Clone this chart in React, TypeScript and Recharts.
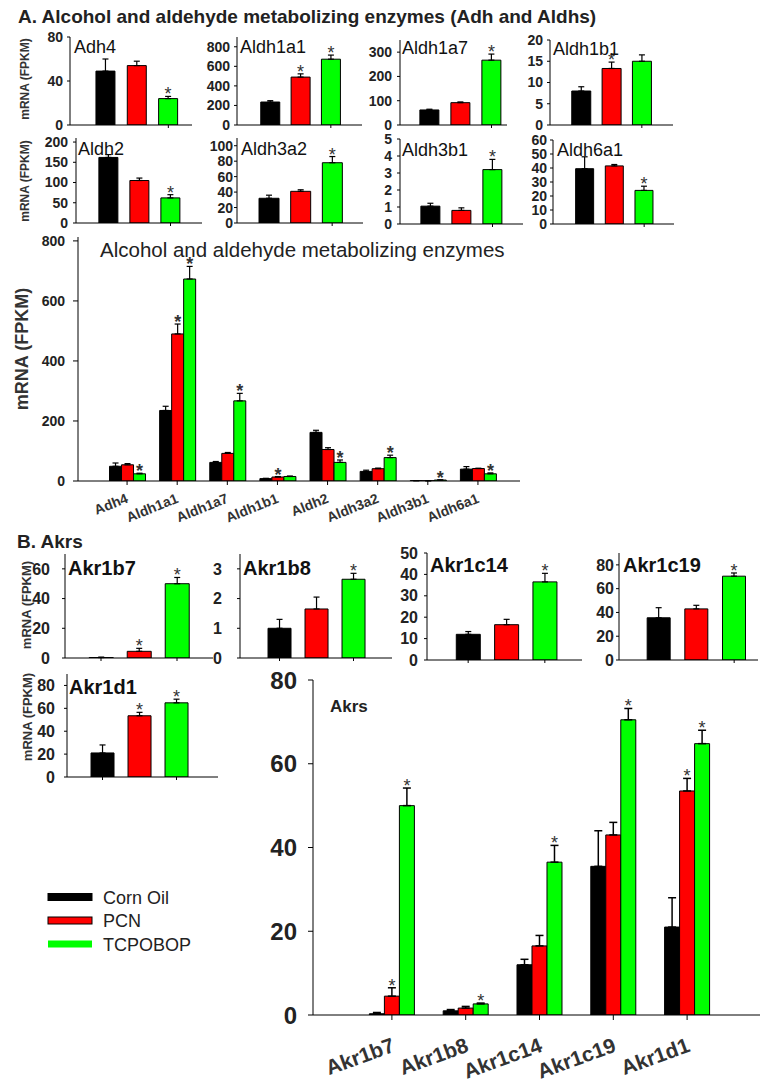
import React from 'react';
import { BarChart, Bar, XAxis, YAxis, ErrorBar, LabelList, Cell } from 'recharts';

const FONT = '"Liberation Sans", Arial, Helvetica, sans-serif';

// Series
const SERIES_NAMES = ['Corn Oil', 'PCN', 'TCPOBOP'];
const SERIES_COLORS = ['#000000', '#ff0000', '#00ff00'];
const SERIES_KEYS = ['corn', 'pcn', 'tcp'];

// Panel A: alcohol and aldehyde metabolizing enzymes
const A_GENES = ['Adh4', 'Aldh1a1', 'Aldh1a7', 'Aldh1b1', 'Aldh2', 'Aldh3a2', 'Aldh3b1', 'Aldh6a1'];
const A_CORN = [49, 235, 62, 8, 162, 32, 1.05, 39.5];
const A_CORN_ERR = [11, 14, 3, 1, 7, 4, 0.17, 8.5];
const A_PCN = [54, 490, 92, 13.3, 105, 41, 0.8, 41.5];
const A_PCN_ERR = [4, 33, 3, 1.5, 6, 2, 0.15, 1];
const A_TCP = [24, 673, 267, 15, 62, 78, 3.2, 24];
const A_TCP_ERR = [2, 42, 25, 1.5, 8, 8, 0.6, 3];
const A_CORN_SIG = [0, 0, 0, 0, 0, 0, 0, 0];
const A_PCN_SIG = [0, 1, 0, 1, 0, 0, 0, 0];
const A_TCP_SIG = [1, 1, 1, 0, 1, 1, 1, 1];
const A_TICKS = [
  [0, 40, 80],
  [0, 200, 400, 600, 800],
  [0, 100, 200, 300],
  [0, 5, 10, 15, 20],
  [0, 50, 100, 150, 200],
  [0, 20, 40, 60, 80, 100],
  [0, 1, 2, 3, 4, 5],
  [0, 10, 20, 30, 40, 50, 60],
];
const A_MAX = [80, 900, 350, 20, 210, 110, 5, 60];
const A_MAIN_TICKS = [0, 200, 400, 600, 800];
const A_MAIN_MAX = 813;

// Panel B: Akrs
const B_GENES = ['Akr1b7', 'Akr1b8', 'Akr1c14', 'Akr1c19', 'Akr1d1'];
const B_CORN = [0.3, 1.0, 12, 35.5, 21];
const B_CORN_ERR = [0.3, 0.3, 1.3, 8.5, 7];
const B_PCN = [4.5, 1.65, 16.5, 43, 53.5];
const B_PCN_ERR = [2, 0.4, 2.5, 3, 3];
const B_TCP = [50, 2.65, 36.5, 70.5, 64.8];
const B_TCP_ERR = [4.2, 0.2, 4, 2.7, 3.2];
const B_CORN_SIG = [0, 0, 0, 0, 0];
const B_PCN_SIG = [1, 0, 0, 0, 1];
const B_TCP_SIG = [1, 1, 1, 1, 1];
const B_TICKS = [
  [0, 20, 40, 60],
  [0, 1, 2, 3],
  [0, 10, 20, 30, 40, 50],
  [0, 20, 40, 60, 80],
  [0, 20, 40, 60, 80],
];
const B_MAX = [70, 3.5, 50, 90, 90];
const B_MAIN_TICKS = [0, 20, 40, 60, 80];
const B_MAIN_MAX = 80;

// Texts
const SECTION_A = 'A. Alcohol and aldehyde metabolizing enzymes (Adh and Aldhs)';
const MAIN_A_TITLE = 'Alcohol and aldehyde metabolizing enzymes';
const SECTION_B = 'B. Akrs';
const MAIN_B_TITLE = 'Akrs';
const Y_LABEL = 'mRNA (FPKM)';

// Layout of the small panels (page coordinates of the framed plot areas)
const A_LAYOUT = [
  { l: 70, t: 37, r: 192, b: 125, pl: 20, pr: 8, gap: 7, tx: 74, ty: 53 },
  { l: 237, t: 37, r: 362, b: 125, pl: 18, pr: 16, gap: 7, tx: 240, ty: 53 },
  { l: 400, t: 40, r: 507, b: 125, pl: 14, pr: 0, gap: 8, tx: 402, ty: 54 },
  { l: 550, t: 40, r: 673, b: 125, pl: 16, pr: 16, gap: 7, tx: 553, ty: 55 },
  { l: 76, t: 138, r: 202, b: 223, pl: 17, pr: 16, gap: 8, tx: 78, ty: 155 },
  { l: 237, t: 138, r: 363, b: 223, pl: 16, pr: 15, gap: 4, tx: 241, ty: 155 },
  { l: 400, t: 139, r: 523, b: 224, pl: 15, pr: 15, gap: 8, tx: 402, ty: 156 },
  { l: 553, t: 140, r: 674, b: 224, pl: 17, pr: 15, gap: 6, tx: 557, ty: 156 },
];
const B_LAYOUT = [
  { l: 65, t: 554, r: 213, b: 658, pl: 17, pr: 17, gap: 15, tx: 68, ty: 575 },
  { l: 240, t: 554, r: 392, b: 658, pl: 21, pr: 20, gap: 18, tx: 243, ty: 575 },
  { l: 427, t: 553, r: 582, b: 660, pl: 22, pr: 18, gap: 9, tx: 430, ty: 572 },
  { l: 619, t: 553, r: 758, b: 660, pl: 21, pr: 5, gap: 5, tx: 623, ty: 572 },
  { l: 67, t: 674, r: 218, b: 777, pl: 17, pr: 23, gap: 12, tx: 69, ty: 694 },
];

const starRenderer = (ppu: number, fs: number, weight: string) => (props: any) => {
  const { value } = props;
  if (value === null || value === undefined || value === '') return null;
  const vb = props.viewBox || props;
  const x = Number(vb.x ?? props.x);
  const y = Number(vb.y ?? props.y);
  const w = Number(vb.width ?? props.width);
  const top = y - Number(value) * ppu;
  return (
    <text x={x + w / 2} y={top + 4} textAnchor="middle" fontSize={fs} fontWeight={weight} fontFamily={FONT} fill="#333">
      *
    </text>
  );
};

const emptyTick = () => <g />;

function SmallPanel(props: any) {
  const { box, vals, errs, sigs, max, ticks, tickFs } = props;
  const YW = 60, MT = 10, MR = 4, XH = 14;
  const w = box.r - box.l;
  const h = box.b - box.t;
  const ppu = h / max;
  const data = vals.map((v: number, i: number) => ({
    name: SERIES_NAMES[i],
    v,
    e: [0, errs[i]],
    s: sigs[i] ? errs[i] : null,
  }));
  return (
    <div style={{ position: 'absolute', left: box.l - YW, top: box.t - MT }}>
      <BarChart
        width={YW + w + MR}
        height={MT + h + XH}
        data={data}
        margin={{ top: MT, right: MR, left: 0, bottom: 0 }}
        barCategoryGap="19%"
      >
        <XAxis
          dataKey="name"
          tick={emptyTick}
          tickSize={3}
          tickLine={{ stroke: '#000' }}
          axisLine={{ stroke: '#000' }}
          height={XH}
          padding={{ left: box.pl, right: box.pr }}
        />
        <XAxis xAxisId="top" orientation="top" dataKey="name" tick={false} tickLine={false} height={0} axisLine={{ stroke: '#000' }} />
        <YAxis
          type="number"
          domain={[0, max]}
          ticks={ticks}
          interval={0}
          allowDataOverflow
          width={YW}
          tickSize={3}
          tickMargin={box.gap - 3}
          tickLine={{ stroke: '#000' }}
          axisLine={{ stroke: '#000' }}
          tick={{ fontSize: tickFs, fontWeight: 'bold', fill: '#222', fontFamily: FONT }}
        />
        <YAxis yAxisId="right" orientation="right" width={0} tick={false} tickLine={false} axisLine={{ stroke: '#000' }} domain={[0, 1]} />
        <Bar dataKey="v" isAnimationActive={false} stroke="#000" strokeWidth={1}>
          {data.map((d: any, i: number) => (
            <Cell key={i} fill={SERIES_COLORS[i]} />
          ))}
          <ErrorBar dataKey="e" width={3} stroke="#000" strokeWidth={1.2} direction="y" />
          <LabelList dataKey="s" content={starRenderer(ppu, 18, 'normal')} />
        </Bar>
      </BarChart>
    </div>
  );
}

function buildRows(genes: string[], vals: number[][], errs: number[][], sigs: number[][]) {
  return genes.map((g, i) => {
    const r: any = { name: g };
    SERIES_KEYS.forEach((k, s) => {
      r[k] = vals[s][i];
      r[k + 'E'] = [0, errs[s][i]];
      r[k + 'S'] = sigs[s][i] ? errs[s][i] : null;
    });
    return r;
  });
}

const makeRotTick = (fs: number, angle: number, dx: number, dy: number) => (props: any) => {
  const { x, y, payload } = props;
  return (
    <g transform={`translate(${x + dx},${y + dy})`}>
      <text x={0} y={0} textAnchor="end" transform={`rotate(${angle})`} fontSize={fs} fontWeight="bold" fontFamily={FONT} fill="#333">
        {payload.value}
      </text>
    </g>
  );
};

function MainChart(props: any) {
  const { rows, left, axisX, plotTop, plotBottom, plotRight, padL, padR, max, ticks, yFs, yTickSize, yTickMargin,
    xFs, angle, dx, dy, xTickSize, gapPct, capW, errW, starFs, starWeight, rightBorder, XH } = props;
  const YW = axisX - left;
  const MT = 16;
  const MR = rightBorder ? 4 : 0;
  const h = plotBottom - plotTop;
  const w = plotRight - axisX;
  const ppu = h / max;
  return (
    <div style={{ position: 'absolute', left, top: plotTop - MT }}>
      <BarChart
        width={YW + w + MR}
        height={MT + h + XH}
        data={rows}
        margin={{ top: MT, right: MR, left: 0, bottom: 0 }}
        barCategoryGap={gapPct}
        barGap={0}
      >
        <XAxis
          dataKey="name"
          interval={0}
          tick={makeRotTick(xFs, angle, dx, dy)}
          tickSize={xTickSize}
          tickMargin={2}
          tickLine={{ stroke: '#000' }}
          axisLine={{ stroke: '#000' }}
          height={XH}
          padding={{ left: padL, right: padR }}
        />
        <XAxis xAxisId="top" orientation="top" dataKey="name" tick={false} tickLine={false} height={0} axisLine={{ stroke: '#000' }} />
        <YAxis
          type="number"
          domain={[0, max]}
          ticks={ticks}
          interval={0}
          allowDataOverflow
          width={YW}
          tickSize={yTickSize}
          tickMargin={yTickMargin}
          tickLine={{ stroke: '#000' }}
          axisLine={{ stroke: '#000' }}
          tick={{ fontSize: yFs, fontWeight: 'bold', fill: '#222', fontFamily: FONT }}
        />
        {rightBorder ? (
          <YAxis yAxisId="right" orientation="right" width={0} tick={false} tickLine={false} axisLine={{ stroke: '#000' }} domain={[0, 1]} />
        ) : null}
        {SERIES_KEYS.map((k, s) => (
          <Bar key={k} dataKey={k} name={SERIES_NAMES[s]} fill={SERIES_COLORS[s]} stroke="#000" strokeWidth={1} isAnimationActive={false}>
            <ErrorBar dataKey={k + 'E'} width={capW} stroke="#000" strokeWidth={errW} direction="y" />
            <LabelList dataKey={k + 'S'} content={starRenderer(ppu, starFs, starWeight)} />
          </Bar>
        ))}
      </BarChart>
    </div>
  );
}

function Overlay() {
  const yLab = (x: number, y: number, fs: number, key: string) => (
    <text key={key} transform={`translate(${x},${y}) rotate(-90)`} textAnchor="middle" fontSize={fs} fontWeight="bold" fontFamily={FONT} fill="#333">
      {Y_LABEL}
    </text>
  );
  return (
    <svg width={760} height={1084} style={{ position: 'absolute', left: 0, top: 0, pointerEvents: 'none' }}>
      <text x={18} y={23} fontSize={19} fontWeight="bold" fontFamily={FONT} fill="#222">{SECTION_A}</text>
      {A_GENES.map((g, i) => (
        <text key={g} x={A_LAYOUT[i].tx} y={A_LAYOUT[i].ty} fontSize={18} fontFamily={FONT} fill="#111">{g}</text>
      ))}
      {yLab(29, 79, 12, 'ya1')}
      {yLab(29, 181, 12, 'ya2')}
      <text x={100} y={257} fontSize={20.5} fontFamily={FONT} fill="#222">{MAIN_A_TITLE}</text>
      {yLab(28, 349, 18, 'yam')}
      <text x={17} y={548} fontSize={19} fontWeight="bold" fontFamily={FONT} fill="#222">{SECTION_B}</text>
      {B_GENES.map((g, i) => (
        <text key={g} x={B_LAYOUT[i].tx} y={B_LAYOUT[i].ty} fontSize={20} fontWeight="bold" fontFamily={FONT} fill="#111">{g}</text>
      ))}
      {yLab(31, 605, 13, 'yb1')}
      {yLab(32, 717, 13, 'yb2')}
      <text x={330} y={712} fontSize={17} fontWeight="bold" fontFamily={FONT} fill="#222">{MAIN_B_TITLE}</text>
      {SERIES_NAMES.map((n, i) => (
        <g key={n}>
          <rect x={48} y={893.5 + i * 23.5} width={44} height={7} fill={SERIES_COLORS[i]} stroke={i === 2 ? 'none' : '#000'} strokeWidth={1} />
          <text x={103} y={903.5 + i * 23.5} fontSize={18} fontFamily={FONT} fill="#222">{n}</text>
        </g>
      ))}
    </svg>
  );
}

export default function App() {
  const aRows = buildRows(A_GENES, [A_CORN, A_PCN, A_TCP], [A_CORN_ERR, A_PCN_ERR, A_TCP_ERR], [A_CORN_SIG, A_PCN_SIG, A_TCP_SIG]);
  const bRows = buildRows(B_GENES, [B_CORN, B_PCN, B_TCP], [B_CORN_ERR, B_PCN_ERR, B_TCP_ERR], [B_CORN_SIG, B_PCN_SIG, B_TCP_SIG]);
  return (
    <div style={{ position: 'absolute', left: 0, top: 0, width: 760, height: 1084, overflow: 'hidden', background: '#fff' }}>
      {A_GENES.map((g, i) => (
        <SmallPanel
          key={g}
          box={A_LAYOUT[i]}
          vals={[A_CORN[i], A_PCN[i], A_TCP[i]]}
          errs={[A_CORN_ERR[i], A_PCN_ERR[i], A_TCP_ERR[i]]}
          sigs={[A_CORN_SIG[i], A_PCN_SIG[i], A_TCP_SIG[i]]}
          max={A_MAX[i]}
          ticks={A_TICKS[i]}
          tickFs={14}
        />
      ))}
      {B_GENES.map((g, i) => (
        <SmallPanel
          key={g}
          box={B_LAYOUT[i]}
          vals={[B_CORN[i], B_PCN[i], B_TCP[i]]}
          errs={[B_CORN_ERR[i], B_PCN_ERR[i], B_TCP_ERR[i]]}
          sigs={[B_CORN_SIG[i], B_PCN_SIG[i], B_TCP_SIG[i]]}
          max={B_MAX[i]}
          ticks={B_TICKS[i]}
          tickFs={16}
        />
      ))}
      <MainChart
        rows={aRows}
        left={30}
        axisX={78}
        plotTop={237}
        plotBottom={481}
        plotRight={520}
        padL={24}
        padR={17}
        max={A_MAIN_MAX}
        ticks={A_MAIN_TICKS}
        yFs={14}
        yTickSize={5}
        yTickMargin={8}
        xFs={14}
        angle={-22}
        dx={2}
        dy={15}
        xTickSize={4}
        gapPct="15%"
        capW={3}
        errW={1.2}
        starFs={18}
        starWeight="bold"
        rightBorder={true}
        XH={70}
      />
      <MainChart
        rows={bRows}
        left={250}
        axisX={313}
        plotTop={680}
        plotBottom={1015}
        plotRight={800}
        padL={42}
        padR={76}
        max={B_MAIN_MAX}
        ticks={B_MAIN_TICKS}
        yFs={24}
        yTickSize={5}
        yTickMargin={11}
        xFs={21}
        angle={-20}
        dx={4}
        dy={29}
        xTickSize={5}
        gapPct="19.5%"
        capW={4}
        errW={1.5}
        starFs={18}
        starWeight="normal"
        rightBorder={false}
        XH={69}
      />
      <Overlay />
    </div>
  );
}
